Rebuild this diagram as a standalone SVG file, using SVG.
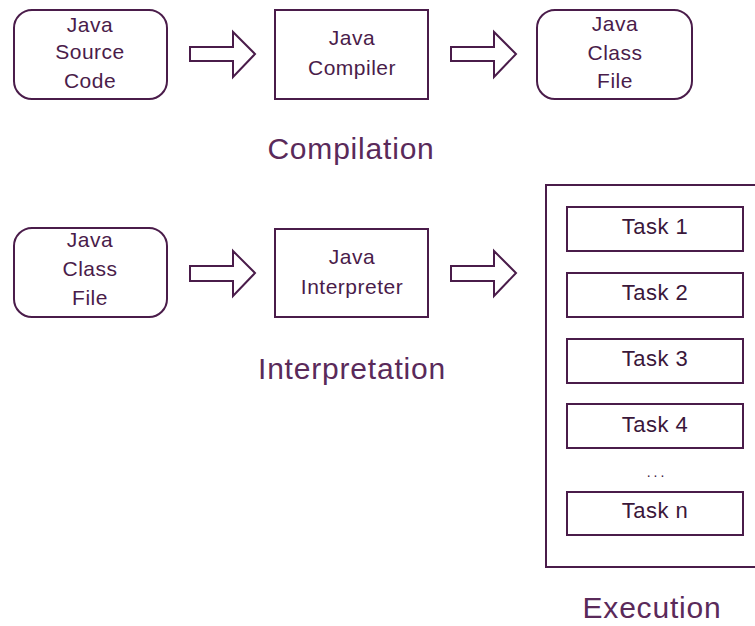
<svg xmlns="http://www.w3.org/2000/svg" width="755" height="626" viewBox="0 0 755 626">
<style>
.box{fill:#fff;stroke:#4a1c4a;stroke-width:2}
.arr{fill:#fff;stroke:#4a1c4a;stroke-width:2;stroke-linejoin:miter}
.t{font-family:"Liberation Sans",Arial,sans-serif;font-size:21px;fill:#4a1c4a;text-anchor:middle;letter-spacing:0.5px}
.tk{font-family:"Liberation Sans",Arial,sans-serif;font-size:22px;fill:#3a173a;text-anchor:middle;letter-spacing:0.5px}
.h{font-family:"Liberation Sans",Arial,sans-serif;font-size:30px;fill:#5a2a5a;text-anchor:middle;letter-spacing:0.8px}
</style>
<rect width="755" height="626" fill="#fff"/>
<g id="connectors">
<polygon class="arr" points="190,47 233,47 233,32 255,54 233,77 233,61 190,61"/>
<polygon class="arr" points="451,47 494,47 494,32 516,54 494,77 494,61 451,61"/>
<polygon class="arr" points="190,266 233,266 233,251 255,273 233,296 233,281 190,281"/>
<polygon class="arr" points="451,266 494,266 494,251 516,273 494,296 494,281 451,281"/>
</g>
<g id="source">
<rect class="box" x="14" y="10" width="153" height="89" rx="18"/>
<text class="t" x="90" y="32">Java</text>
<text class="t" x="90" y="59">Source</text>
<text class="t" x="90" y="88">Code</text>
</g>
<g id="compiler">
<rect class="box" x="275" y="10" width="153" height="89"/>
<text class="t" x="352" y="45">Java</text>
<text class="t" x="352" y="75">Compiler</text>
</g>
<g id="classfile1">
<rect class="box" x="537" y="10" width="155" height="89" rx="18"/>
<text class="t" x="615" y="31">Java</text>
<text class="t" x="615" y="60">Class</text>
<text class="t" x="615" y="88">File</text>
</g>
<g id="compilation">
<text class="h" x="351" y="159">Compilation</text>
</g>
<g id="classfile2">
<rect class="box" x="14" y="228" width="153" height="89" rx="18"/>
<text class="t" x="90" y="247">Java</text>
<text class="t" x="90" y="276">Class</text>
<text class="t" x="90" y="305">File</text>
</g>
<g id="interpreter">
<rect class="box" x="275" y="229" width="153" height="88"/>
<text class="t" x="352" y="264">Java</text>
<text class="t" x="352" y="294">Interpreter</text>
</g>
<g id="interpretation">
<text class="h" x="352" y="379">Interpretation</text>
</g>
<g id="execution">
<rect class="box" x="546" y="185" width="220" height="382"/>
<text class="h" x="652" y="618">Execution</text>
</g>
<g id="task1"><rect class="box" x="567" y="207" width="176" height="44"/><text class="tk" x="655" y="234">Task 1</text></g>
<g id="task2"><rect class="box" x="567" y="273" width="176" height="44"/><text class="tk" x="655" y="300">Task 2</text></g>
<g id="task3"><rect class="box" x="567" y="339" width="176" height="44"/><text class="tk" x="655" y="366">Task 3</text></g>
<g id="task4"><rect class="box" x="567" y="404" width="176" height="44"/><text class="tk" x="655" y="432">Task 4</text></g>
<g id="dots"><text class="tk" x="657" y="477" style="font-size:14px;letter-spacing:3px">...</text></g>
<g id="taskn"><rect class="box" x="567" y="492" width="176" height="43"/><text class="tk" x="655" y="518">Task n</text></g>
</svg>
